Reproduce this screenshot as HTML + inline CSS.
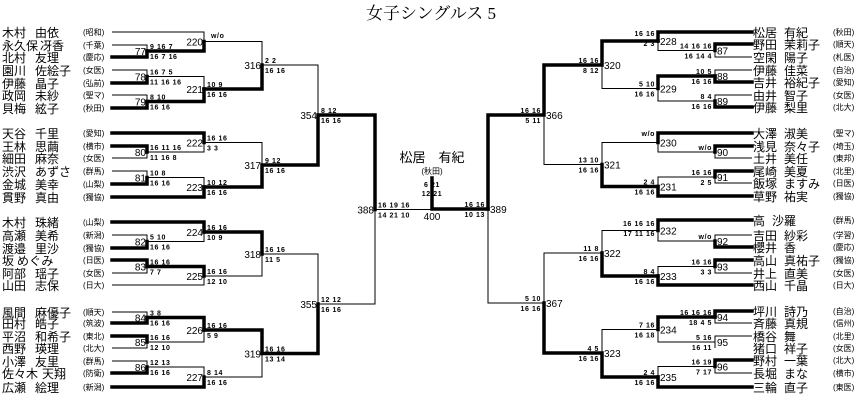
<!DOCTYPE html>
<html><head><meta charset="utf-8">
<style>
html,body{margin:0;padding:0;background:#fff;}
svg{display:block;}
.nm{font-family:"Liberation Sans","Noto Sans CJK JP",sans-serif;font-size:12px;fill:#000;}
.af{font-family:"Liberation Sans","Noto Sans CJK JP",sans-serif;font-size:8px;fill:#000;}
.mn{font-family:"Liberation Sans",sans-serif;font-size:10px;fill:#000;}
.sc{font-family:"Liberation Sans",sans-serif;font-size:7px;font-weight:bold;fill:#000;letter-spacing:0.6px;}
</style></head><body>
<svg width="863" height="407" viewBox="0 0 863 407" xmlns="http://www.w3.org/2000/svg">
<rect width="863" height="407" fill="#fff"/>
<text x="431" y="19" text-anchor="middle" style="font-family:'Liberation Serif','Noto Serif CJK SC',serif;font-size:17px;">女子シングルス 5</text>

<g fill="none" stroke="#000" stroke-width="1">
<path d="M112 45H147V57M112 70H147V83M112 95H147V108M112 158H147V146M112 171H147V184M112 235H147V248M112 273H147V260M112 312H147V323M112 348H147V336M112 361H147V373"/>
<path d="M112 32H204V51M147 76.5H204V101.5M147 152H204V133M147 177.5H204V197M147 241.5H204V222M112 285H204V266.5M147 342H204V317.5M147 367H204V387"/>
<path d="M204 41.5H262V89M204 142.5H262V187M204 276H262V232M204 377H262V330M262 65H318V165M262 254H318V353.5M318 304H375V115M375 209.5H432"/>
<path d="M752 57H715V44M752 70H715V82M752 95H715V107M752 158H715V146M752 183H715V171M752 235H715V247M752 273H715V260M752 323H715V311M752 336H715V348M752 373H715V360"/>
<path d="M715 50.5H658V32M715 101H658V76M715 152H658V133M715 177H658V196M715 241H658V220M715 266.5H658V285M715 342H658V317M715 366.5H658V387"/>
<path d="M658 88.5H602V41M658 142.5H602V186.5M658 230.5H602V276M658 329.5H602V377M602 164.5H544V65M602 253H544V353M544 303H488V115"/>
</g>
<g fill="none" stroke="#000" stroke-width="3.5" stroke-linecap="square">
<path d="M112 57H147V51M112 83H147V76.5M112 108H147V101.5M112 146H147V152M112 184H147V177.5M112 248H147V241.5M112 260H147V266.5M112 323H147V317.5M112 336H147V342M112 373H147V367"/>
<path d="M147 51H204V41.5M147 101.5H204V89M112 133H204V142.5M112 197H204V187M112 222H204V232M147 266.5H204V276M147 317.5H204V330M112 387H204V377"/>
<path d="M204 89H262V65M204 187H262V165M204 232H262V254M204 330H262V353.5M262 165H318V115M262 353.5H318V304M318 115H375V209.5"/>
<path d="M488 209H432V178"/>
<path d="M752 44H715V50.5M752 82H715V76M752 107H715V101M752 146H715V152M752 171H715V177M752 247H715V241M752 260H715V266.5M752 311H715V317M752 360H715V366.5"/>
<path d="M752 32H658V41M715 76H658V88.5M752 133H658V142.5M752 196H658V186.5M752 220H658V230.5M752 285H658V276M715 317H658V329.5M752 387H658V377"/>
<path d="M658 41H602V65M658 186.5H602V164.5M658 276H602V253M658 377H602V353M602 65H544V115M602 353H544V303M544 115H488V209"/>
</g>

<!-- left names -->
<g class="nm">
<text x="2" y="37">木村<tspan x="35">由依</tspan></text><text x="2" y="50">永久保<tspan x="40">冴香</tspan></text><text x="2" y="62">北村<tspan x="35">友理</tspan></text><text x="2" y="75">園川<tspan x="35">佐絵子</tspan></text><text x="2" y="88">伊藤<tspan x="35">晶子</tspan></text><text x="2" y="100">政岡<tspan x="35">未紗</tspan></text><text x="2" y="113">貝梅<tspan x="35">絃子</tspan></text>
<text x="2" y="138">天谷<tspan x="35">千里</tspan></text><text x="2" y="151">王林<tspan x="35">思繭</tspan></text><text x="2" y="163">細田<tspan x="35">麻奈</tspan></text><text x="2" y="176">渋沢<tspan x="35">あずさ</tspan></text><text x="2" y="189">金城<tspan x="35">美幸</tspan></text><text x="2" y="202">貫野<tspan x="35">真由</tspan></text>
<text x="2" y="227">木村<tspan x="35">珠緒</tspan></text><text x="2" y="240">高瀬<tspan x="35">美希</tspan></text><text x="2" y="253">渡邉<tspan x="35">里沙</tspan></text><text x="2" y="265">坂<tspan x="17">めぐみ</tspan></text><text x="2" y="278">阿部<tspan x="35">瑶子</tspan></text><text x="2" y="290">山田<tspan x="35">志保</tspan></text>
<text x="2" y="317">風間<tspan x="35">麻優子</tspan></text><text x="2" y="328">田村<tspan x="35">皓子</tspan></text><text x="2" y="341">平沼<tspan x="35">和希子</tspan></text><text x="2" y="353">西野<tspan x="35">瑛理</tspan></text><text x="2" y="366">小澤<tspan x="35">友里</tspan></text><text x="2" y="378">佐々木<tspan x="42">天翔</tspan></text><text x="2" y="392">広瀬<tspan x="35">絵理</tspan></text>
</g>
<g class="af">
<text x="83" y="35">(昭和)</text><text x="83" y="48">(千葉)</text><text x="83" y="60">(慶応)</text><text x="83" y="73">(女医)</text><text x="83" y="86">(弘前)</text><text x="83" y="98">(聖マ)</text><text x="83" y="111">(秋田)</text>
<text x="83" y="136">(愛知)</text><text x="83" y="149">(横市)</text><text x="83" y="161">(女医)</text><text x="83" y="174">(群馬)</text><text x="83" y="187">(山梨)</text><text x="83" y="200">(獨協)</text>
<text x="83" y="225">(山梨)</text><text x="83" y="238">(新潟)</text><text x="83" y="251">(獨協)</text><text x="83" y="263">(日医)</text><text x="83" y="276">(女医)</text><text x="83" y="288">(日大)</text>
<text x="83" y="315">(順天)</text><text x="83" y="326">(筑波)</text><text x="83" y="339">(東北)</text><text x="83" y="351">(北大)</text><text x="83" y="364">(群馬)</text><text x="83" y="376">(防衛)</text><text x="83" y="390">(新潟)</text>
</g>
<!-- right names -->
<g class="nm">
<text x="753" y="37">松居<tspan x="784">有紀</tspan></text><text x="753" y="49">野田<tspan x="784">茉莉子</tspan></text><text x="753" y="62">空閑<tspan x="784">陽子</tspan></text><text x="753" y="75">伊藤<tspan x="784">佳菜</tspan></text><text x="753" y="87">吉井<tspan x="784">裕紀子</tspan></text><text x="753" y="100">由井<tspan x="784">智子</tspan></text><text x="753" y="112">伊藤<tspan x="784">梨里</tspan></text>
<text x="753" y="138">大澤<tspan x="784">淑美</tspan></text><text x="753" y="151">浅見<tspan x="784">奈々子</tspan></text><text x="753" y="163">土井<tspan x="784">美任</tspan></text><text x="753" y="176">尾崎<tspan x="784">美夏</tspan></text><text x="753" y="188">飯塚<tspan x="784">ますみ</tspan></text><text x="753" y="201">草野<tspan x="784">祐実</tspan></text>
<text x="753" y="225">高<tspan x="772">沙羅</tspan></text><text x="753" y="240">吉田<tspan x="784">紗彩</tspan></text><text x="753" y="252">櫻井<tspan x="784">香</tspan></text><text x="753" y="265">高山<tspan x="784">真祐子</tspan></text><text x="753" y="278">井上<tspan x="784">直美</tspan></text><text x="753" y="290">西山<tspan x="784">千晶</tspan></text>
<text x="753" y="316">坪川<tspan x="784">詩乃</tspan></text><text x="753" y="328">斉藤<tspan x="784">真規</tspan></text><text x="753" y="341">橋谷<tspan x="784">舞</tspan></text><text x="753" y="353">猪口<tspan x="784">祥子</tspan></text><text x="753" y="365">野村<tspan x="784">一葉</tspan></text><text x="753" y="378">長堀<tspan x="784">まな</tspan></text><text x="753" y="392">三輪<tspan x="784">直子</tspan></text>
</g>
<g class="af">
<text x="833" y="35">(秋田)</text><text x="833" y="47">(順天)</text><text x="833" y="60">(札医)</text><text x="833" y="73">(自治)</text><text x="833" y="85">(愛知)</text><text x="833" y="98">(女医)</text><text x="833" y="110">(北大)</text>
<text x="833" y="136">(聖マ)</text><text x="833" y="149">(埼玉)</text><text x="833" y="161">(東邦)</text><text x="833" y="174">(北里)</text><text x="833" y="186">(日医)</text><text x="833" y="199">(獨協)</text>
<text x="833" y="223">(群馬)</text><text x="833" y="238">(学習)</text><text x="833" y="250">(慶応)</text><text x="833" y="263">(獨協)</text><text x="833" y="276">(女医)</text><text x="833" y="288">(日大)</text>
<text x="833" y="314">(自治)</text><text x="833" y="326">(信州)</text><text x="833" y="339">(北里)</text><text x="833" y="351">(女医)</text><text x="833" y="363">(北大)</text><text x="833" y="376">(横市)</text><text x="833" y="390">(東医)</text>
</g>

<!-- match numbers left -->
<g class="mn" text-anchor="end">
<text x="146" y="55">77</text><text x="146" y="80.5">78</text><text x="146" y="105.5">79</text><text x="146" y="156">80</text><text x="146" y="181.5">81</text><text x="146" y="245.5">82</text><text x="146" y="270.5">83</text><text x="146" y="321.5">84</text><text x="146" y="346">85</text><text x="146" y="371">86</text>
<text x="203" y="45.5">220</text><text x="203" y="93">221</text><text x="203" y="146.5">222</text><text x="203" y="191">223</text><text x="203" y="236">224</text><text x="203" y="280">225</text><text x="203" y="334">226</text><text x="203" y="381">227</text>
<text x="261" y="69">316</text><text x="261" y="169">317</text><text x="261" y="258">318</text><text x="261" y="357.5">319</text><text x="317" y="119">354</text><text x="317" y="308">355</text><text x="374" y="213.5">388</text>
</g>
<g class="mn">
<text x="717" y="54.5">87</text><text x="717" y="80">88</text><text x="717" y="105">89</text><text x="717" y="156">90</text><text x="717" y="181">91</text><text x="717" y="245">92</text><text x="717" y="270.5">93</text><text x="717" y="321">94</text><text x="717" y="346">95</text><text x="717" y="370.5">96</text>
<text x="660" y="45">228</text><text x="660" y="92.5">229</text><text x="660" y="146.5">230</text><text x="660" y="190.5">231</text><text x="660" y="234.5">232</text><text x="660" y="280">233</text><text x="660" y="333.5">234</text><text x="660" y="381">235</text>
<text x="604" y="69">320</text><text x="604" y="168.5">321</text><text x="604" y="257">322</text><text x="604" y="357">323</text><text x="546" y="119">366</text><text x="546" y="307">367</text><text x="490" y="213">389</text>
<text x="432" y="220" text-anchor="middle">400</text>
</g>

<!-- center winner -->
<text x="432" y="162" text-anchor="middle" class="nm" style="font-size:13px">松居　有紀</text>
<text x="432" y="174" text-anchor="middle" class="af">(秋田)</text>
<text x="432" y="187" text-anchor="middle" class="sc">6 21</text>
<text x="432" y="196" text-anchor="middle" class="sc">12 21</text>

<!-- left scores -->
<g class="sc">
<text x="150" y="49">9 16 7</text><text x="150" y="59">16 7 16</text>
<text x="150" y="74.5">16 7 5</text><text x="150" y="84.5">11 16 16</text>
<text x="150" y="99.5">8 10</text><text x="150" y="109.5">16 16</text>
<text x="150" y="150">16 11 16</text><text x="150" y="160">11 16 8</text>
<text x="150" y="175.5">10 8</text><text x="150" y="185.5">16 16</text>
<text x="150" y="239.5">5 10</text><text x="150" y="249.5">16 16</text>
<text x="150" y="264.5">16 16</text><text x="150" y="274.5">7 7</text>
<text x="150" y="315.5">3 8</text><text x="150" y="325.5">16 16</text>
<text x="150" y="340">16 16</text><text x="150" y="350">12 10</text>
<text x="150" y="365">12 13</text><text x="150" y="375">16 16</text>
<text x="211" y="38">w/o</text>
<text x="207" y="87">10 9</text><text x="207" y="97">16 16</text>
<text x="207" y="140.5">16 16</text><text x="207" y="150.5">3 3</text>
<text x="207" y="185">10 12</text><text x="207" y="195">16 16</text>
<text x="207" y="230">16 16</text><text x="207" y="240">10 9</text>
<text x="207" y="274">16 16</text><text x="207" y="284">12 10</text>
<text x="207" y="328">16 16</text><text x="207" y="338">5 9</text>
<text x="207" y="375">8 14</text><text x="207" y="385">16 16</text>
<text x="265" y="63">2 2</text><text x="265" y="73">16 16</text>
<text x="265" y="163">9 12</text><text x="265" y="173">16 16</text>
<text x="265" y="252">16 16</text><text x="265" y="262">11 5</text>
<text x="265" y="351.5">16 16</text><text x="265" y="361.5">13 14</text>
<text x="321" y="113">8 12</text><text x="321" y="123">16 16</text>
<text x="321" y="302">12 12</text><text x="321" y="312">16 16</text>
<text x="378" y="207.5">16 19 16</text><text x="378" y="217.5">14 21 10</text>
</g>
<!-- right scores -->
<g class="sc" text-anchor="end">
<text x="712" y="48.5">14 16 16</text><text x="712" y="58.5">16 14 4</text>
<text x="712" y="74">10 5</text><text x="712" y="84">16 16</text>
<text x="712" y="99">8 4</text><text x="712" y="109">16 16</text>
<text x="712" y="150">w/o</text>
<text x="712" y="175">16 16</text><text x="712" y="185">2 5</text>
<text x="712" y="239">w/o</text>
<text x="712" y="264.5">16 16</text><text x="712" y="274.5">3 3</text>
<text x="712" y="315">16 16 16</text><text x="712" y="325">18 4 5</text>
<text x="712" y="340">5 16</text><text x="712" y="350">16 11</text>
<text x="712" y="364.5">16 19</text><text x="712" y="374.5">7 17</text>
<text x="655" y="36">16 16</text><text x="655" y="46">2 3</text>
<text x="655" y="86.5">5 10</text><text x="655" y="96.5">16 16</text>
<text x="655" y="136">w/o</text>
<text x="655" y="184.5">2 4</text><text x="655" y="194.5">16 16</text>
<text x="655" y="226">16 16 16</text><text x="655" y="236">17 11 16</text>
<text x="655" y="274">8 4</text><text x="655" y="284">16 16</text>
<text x="655" y="327.5">7 16</text><text x="655" y="337.5">16 18</text>
<text x="655" y="375">2 4</text><text x="655" y="385">16 16</text>
<text x="599" y="63">16 16</text><text x="599" y="73">8 12</text>
<text x="599" y="162.5">13 10</text><text x="599" y="172.5">16 16</text>
<text x="599" y="251">11 8</text><text x="599" y="261">16 16</text>
<text x="599" y="351">4 5</text><text x="599" y="361">16 16</text>
<text x="541" y="113">16 16</text><text x="541" y="123">5 11</text>
<text x="541" y="301">5 10</text><text x="541" y="311">16 16</text>
<text x="485" y="207">16 16</text><text x="485" y="217">10 13</text>
</g>
</svg>
</body></html>
